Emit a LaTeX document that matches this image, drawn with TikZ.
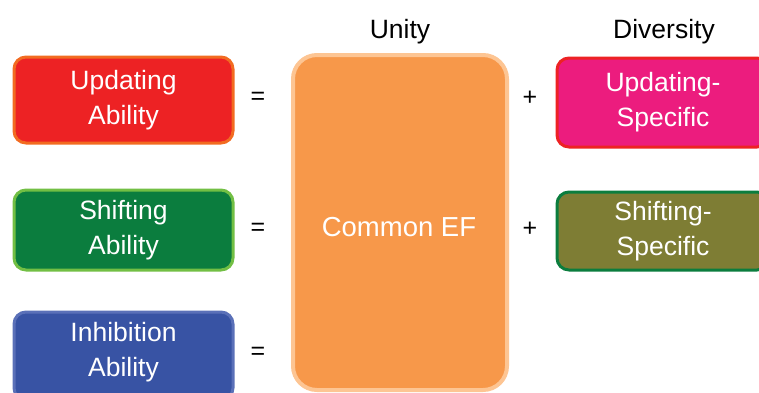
\documentclass[tikz,border=0pt]{standalone}
\usepackage{fontspec}
\setmainfont{Liberation Sans}
\definecolor{updRed}{HTML}{ED2224}
\definecolor{updBorder}{HTML}{F26B21}
\definecolor{shfGreen}{HTML}{0B7D3E}
\definecolor{shfBorder}{HTML}{72BF44}
\definecolor{inhBlue}{HTML}{3853A4}
\definecolor{inhBorder}{HTML}{5A70B8}
\definecolor{comOrange}{HTML}{F7984A}
\definecolor{comBorder}{HTML}{FDC593}
\definecolor{specPink}{HTML}{EC1C7E}
\definecolor{specOlive}{HTML}{7E7D34}
\begin{document}
\begin{tikzpicture}[x=1pt,y=-1pt,
  abox/.style={rounded corners=12pt, line width=3pt, align=center, text=white,
    font=\fontsize{26.5}{35}\selectfont, inner sep=0pt},
  opsym/.style={font=\fontsize{25}{28}\selectfont, text=black},
  header/.style={font=\fontsize{26.5}{30}\selectfont, text=black}]
\useasboundingbox (0,0) rectangle (759,392);
\clip (0,0) rectangle (759,392);
\node[abox, fill=updRed, draw=updBorder, minimum width=219pt, minimum height=86pt] (upd) at (123.5,100) {Updating\\Ability};
\node[abox, fill=shfGreen, draw=shfBorder, minimum width=219pt, minimum height=80pt] (shf) at (123.5,230) {Shifting\\Ability};
\node[abox, fill=inhBlue, draw=inhBorder, minimum width=219pt, minimum height=88pt, text height=0pt] (inh) at (123.5,356) {};
\node[align=center, text=white, font=\fontsize{26.5}{35}\selectfont] (inhtxt) at (123.5,352) {Inhibition\\Ability};
\node[abox, fill=comOrange, draw=comBorder, line width=4pt, rounded corners=24pt, minimum width=214pt, minimum height=335pt] (com) at (400,222.5) {};
\node[text=white, font=\fontsize{27.5}{30}\selectfont] (comtxt) at (399,227) {Common EF};
\node[abox, fill=specPink, draw=updRed, minimum width=212pt, minimum height=89pt] (uspec) at (663,102.5) {Updating-\\Specific};
\node[abox, fill=specOlive, draw=shfGreen, minimum width=212pt, minimum height=78pt] (sspec) at (663,231) {Shifting-\\Specific};
\node[opsym] (eq1) at (258,98) {=};
\node[opsym] (eq2) at (258,229) {=};
\node[opsym] (eq3) at (258,353) {=};
\node[opsym] (pl1) at (530,98) {+};
\node[opsym] (pl2) at (530,229) {+};
\node[header] (unity) at (400,32) {Unity};
\node[header] (div) at (664,32) {Diversity};
\end{tikzpicture}
\end{document}
